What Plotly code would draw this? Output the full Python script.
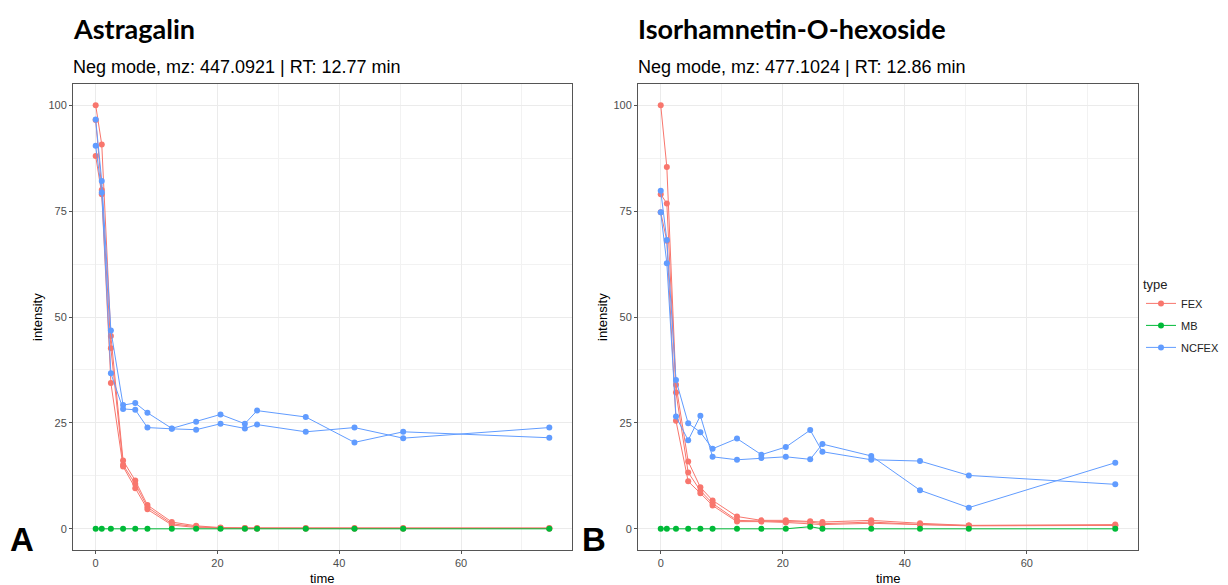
import plotly.graph_objects as go

# ---- data ----
time = [0, 1, 2.5, 4.5, 6.5, 8.5, 12.5, 16.5, 20.5, 24.5, 26.5, 34.5, 42.5, 50.5, 74.5]

# Panel A: Astragalin
a_fex_1 = [100.0, 90.7, 45.5, 16.1, 11.4, 5.6, 1.6, 0.7, 0.3, 0.2, 0.2, 0.2, 0.2, 0.2, 0.2]
a_fex_2 = [96.5, 80.0, 42.6, 15.1, 10.6, 5.1, 1.2, 0.5, 0.2, 0.2, 0.1, 0.1, 0.1, 0.1, 0.1]
a_fex_3 = [88.0, 79.0, 34.4, 14.7, 9.6, 4.6, 0.9, 0.3, 0.2, 0.1, 0.1, 0.1, 0.1, 0.1, 0.1]
a_mb_1 = [0, 0, 0, 0, 0, 0, 0, 0, 0, 0, 0, 0, 0, 0, 0]
a_ncfex_1 = [96.6, 82.1, 46.8, 29.2, 29.7, 27.4, 23.7, 25.3, 27.0, 24.8, 27.9, 26.4, 20.4, 22.9, 21.5]
a_ncfex_2 = [90.4, 79.4, 36.7, 28.3, 28.1, 23.9, 23.6, 23.4, 24.8, 23.7, 24.6, 22.9, 23.9, 21.4, 23.9]

# Panel B: Isorhamnetin-O-hexoside
b_fex_1 = [100.0, 85.4, 34.0, 15.9, 9.8, 6.7, 2.9, 2.0, 2.0, 1.8, 1.6, 2.0, 1.3, 0.8, 1.0]
b_fex_2 = [79.0, 76.8, 32.2, 13.3, 9.0, 6.0, 2.0, 1.8, 1.7, 1.6, 1.2, 1.6, 1.0, 0.8, 0.8]
b_fex_3 = [74.7, 68.0, 25.5, 11.2, 8.4, 5.5, 1.7, 1.7, 1.5, 1.2, 1.0, 1.3, 1.0, 0.7, 0.8]
b_mb_1 = [0, 0, 0, 0, 0, 0, 0, 0, 0, 0.5, 0, 0, 0, 0, 0]
b_ncfex_1 = [79.8, 68.2, 35.1, 24.9, 22.8, 18.9, 21.3, 17.5, 19.3, 23.3, 18.2, 16.3, 16.0, 12.6, 10.5]
b_ncfex_2 = [74.7, 62.7, 26.5, 20.9, 26.7, 17.0, 16.3, 16.7, 17.0, 16.4, 20.0, 17.2, 9.1, 5.0, 15.6]

types = ["FEX", "MB", "NCFEX"]
colors = {"FEX": "#F8766D", "MB": "#00BA38", "NCFEX": "#619CFF"}

panel_a = {"FEX": [a_fex_1, a_fex_2, a_fex_3], "MB": [a_mb_1], "NCFEX": [a_ncfex_1, a_ncfex_2]}
panel_b = {"FEX": [b_fex_1, b_fex_2, b_fex_3], "MB": [b_mb_1], "NCFEX": [b_ncfex_1, b_ncfex_2]}

titles = ["Astragalin", "Isorhamnetin-O-hexoside"]
subtitles = ["Neg mode, mz: 447.0921 | RT: 12.77 min", "Neg mode, mz: 477.1024 | RT: 12.86 min"]
y_ticks = [0, 25, 50, 75, 100]
x_ticks = [0, 20, 40, 60]

W, H = 1228, 585
fig = go.Figure()

for pi, panel in enumerate([panel_a, panel_b]):
    xa = "x" if pi == 0 else "x2"
    ya = "y" if pi == 0 else "y2"
    for t in types:
        for ri, series in enumerate(panel[t]):
            fig.add_trace(go.Scatter(
                x=time, y=series, mode="lines+markers", xaxis=xa, yaxis=ya,
                line=dict(color=colors[t], width=1),
                marker=dict(color=colors[t], size=6),
                name=t, legendgroup=t,
                showlegend=(pi == 0 and ri == 0),
            ))

# panel geometry (pixels)
L1, R1 = 73, 572
L2, R2 = 638, 1138
TOP, BOT = 84, 550

def px(x):
    return x / W

def py(y):
    return 1 - y / H

axis_common = dict(
    showline=True, mirror=True, linecolor="#555555", linewidth=1,
    showgrid=True, gridcolor="#EBEBEB", gridwidth=1,
    zeroline=False, ticks="outside", ticklen=3, tickcolor="#555555",
    tickfont=dict(family="Liberation Sans, Arial", size=11, color="#4D4D4D"),
)

fig.update_layout(
    width=W, height=H, margin=dict(l=0, r=0, t=0, b=0),
    paper_bgcolor="white", plot_bgcolor="white",
    xaxis=dict(domain=[px(L1), px(R1)], range=[-3.725, 78.225], tickvals=x_ticks,
               minor=dict(showgrid=True, gridcolor="#F2F2F2", tickvals=[10, 30, 50, 70]),
               anchor="y", **axis_common),
    yaxis=dict(domain=[py(BOT), py(TOP)], range=[-5, 105], tickvals=y_ticks,
               minor=dict(showgrid=True, gridcolor="#F2F2F2", tickvals=[12.5, 37.5, 62.5, 87.5]),
               anchor="x", **axis_common),
    xaxis2=dict(domain=[px(L2), px(R2)], range=[-3.725, 78.225], tickvals=x_ticks,
                minor=dict(showgrid=True, gridcolor="#F2F2F2", tickvals=[10, 30, 50, 70]),
                anchor="y2", **axis_common),
    yaxis2=dict(domain=[py(BOT), py(TOP)], range=[-5, 105], tickvals=y_ticks,
                minor=dict(showgrid=True, gridcolor="#F2F2F2", tickvals=[12.5, 37.5, 62.5, 87.5]),
                anchor="x2", **axis_common),
    legend=dict(
        title=dict(text="type", font=dict(family="Liberation Sans, Arial", size=13, color="#222")),
        font=dict(family="Liberation Sans, Arial", size=11, color="#222"),
        x=px(1141), y=py(272), xanchor="left", yanchor="top",
        tracegroupgap=3, itemwidth=30, bgcolor="rgba(0,0,0,0)",
    ),
)

ann = []
for pi, (L, R) in enumerate([(L1, R1), (L2, R2)]):
    ann.append(dict(text="<b>" + titles[pi] + "</b>", x=px(L - 2), y=py(28), xref="paper", yref="paper",
                    xanchor="left", yanchor="middle", showarrow=False,
                    font=dict(family="Lato", size=27, color="black")))
    ann.append(dict(text=subtitles[pi], x=px(L - 2), y=py(67), xref="paper", yref="paper",
                    xanchor="left", yanchor="middle", showarrow=False,
                    font=dict(family="Liberation Sans, Arial", size=18, color="black")))
    ann.append(dict(text="time", x=px((L + R) / 2), y=py(578), xref="paper", yref="paper",
                    xanchor="center", yanchor="middle", showarrow=False,
                    font=dict(family="Liberation Sans, Arial", size=13, color="black")))
    ann.append(dict(text="intensity", x=px(L - 36), y=py((TOP + BOT) / 2), xref="paper", yref="paper",
                    xanchor="center", yanchor="middle", showarrow=False, textangle=-90,
                    font=dict(family="Liberation Sans, Arial", size=13, color="black")))

ann.append(dict(text="<b>A</b>", x=px(22), y=py(539), xref="paper", yref="paper",
                xanchor="center", yanchor="middle", showarrow=False,
                font=dict(family="Liberation Sans, Arial", size=33, color="black")))
ann.append(dict(text="<b>B</b>", x=px(594), y=py(539), xref="paper", yref="paper",
                xanchor="center", yanchor="middle", showarrow=False,
                font=dict(family="Liberation Sans, Arial", size=33, color="black")))
fig.update_layout(annotations=ann)

fig.write_html("out.html")
